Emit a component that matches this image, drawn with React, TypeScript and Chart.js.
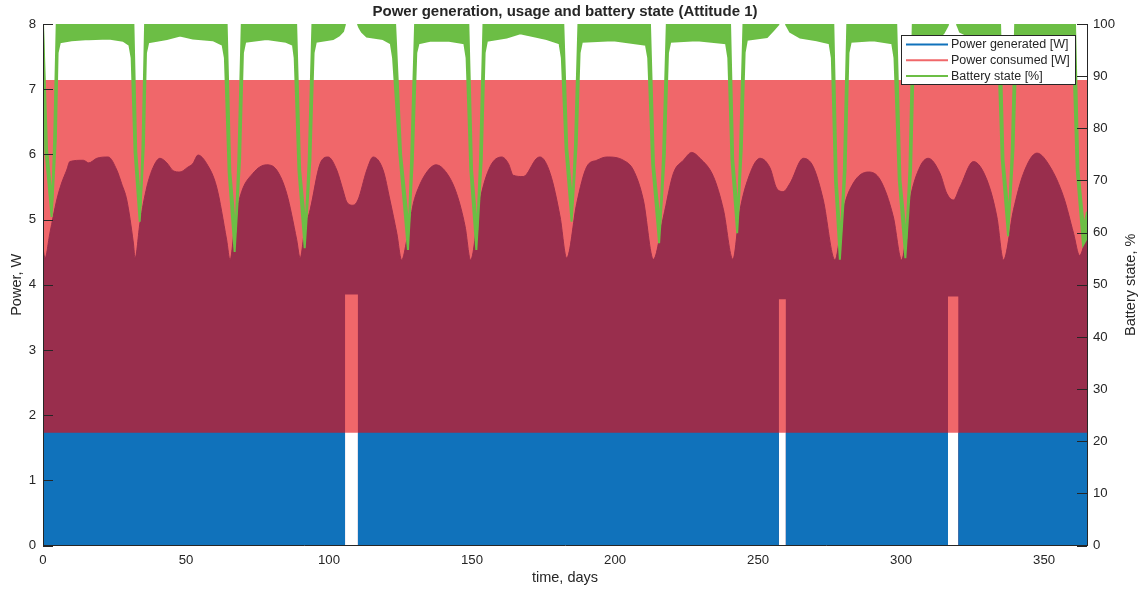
import { useEffect, useRef } from 'react';
import { Chart, registerables } from 'chart.js';

Chart.register(...registerables);

const FONT = '"Liberation Sans", Arial, Helvetica, sans-serif';
const AXIS = '#262626';
const BLUE = '#1072BB';
const RED = '#F0676A';
const MAROON = '#992E4D';
const GREEN = '#6CBE45';

// Generated power: upper envelope of the per-orbit swing [W]
const genEnvDays = [
  0, 0.7, 2.4, 4.8, 6.5, 8.3, 9.4, 14.1, 16, 18.8, 22.8, 25.8, 27.5, 29.3, 31.6, 32.2,
  33.9, 36.3, 38.5, 40.9, 43.3, 45.5, 47.9, 50.5, 52.4, 54.2, 57.2, 60.7, 64.2, 65.4,
  67.0, 68.9, 73.4, 78.2, 81.7, 85.2, 88.7, 89.9, 91.5, 93.4, 96.9, 99.7, 102.7, 104.9,
  106.2, 108.4, 110.1, 113.2, 115.4, 118.9, 121.3, 123.7, 125.4, 127.2, 129.5, 131.2,
  134.2, 137.4, 141.2, 144.6, 147.6, 149.5, 152.8, 156.3, 160.4, 162.7, 164.4, 167.9,
  172.6, 173.8, 177.3, 180.8, 183.1, 186.6, 190.1, 193.6, 197.1, 202.9, 206.4, 209.9,
  213.4, 216.9, 220.4, 223.9, 226.8, 229.7, 234.4, 237.9, 241.2, 243.5, 246.0, 250.7,
  254.2, 256.5, 258.8, 261.2, 265.8, 269.3, 272.8, 276.9, 279.8, 283.3, 288.6, 292.7,
  297.3, 300.2, 303.1, 306.6, 309.5, 313.6, 316.0, 318.3, 320.6, 325.3, 330.0, 333.5,
  335.8, 339.3, 342.8, 347.5, 352.1, 356.8, 360.3, 362.4, 365,
];
const genEnvW = [
  4.56, 4.41, 4.79, 5.30, 5.56, 5.76, 5.89, 5.91, 5.87, 5.94, 5.96, 5.76, 5.55, 5.30, 4.64, 4.41,
  4.95, 5.50, 5.80, 5.94, 5.87, 5.75, 5.73, 5.80, 5.86, 5.99, 5.86, 5.50, 4.69, 4.38,
  4.90, 5.35, 5.71, 5.84, 5.76, 5.40, 4.69, 4.41, 4.85, 5.15, 5.86, 5.96, 5.76, 5.45,
  5.27, 5.22, 5.30, 5.76, 5.96, 5.76, 5.30, 4.79, 4.38, 4.69, 5.25, 5.48,
  5.73, 5.84, 5.71, 5.40, 4.89, 4.38, 5.30, 5.81, 5.96, 5.86, 5.68, 5.66,
  5.94, 5.96, 5.71, 5.04, 4.41, 5.25, 5.81, 5.91, 5.96, 5.91, 5.76, 5.30,
  4.39, 5.04, 5.71, 5.91, 6.03, 5.94, 5.66, 5.15, 4.39, 5.10, 5.56, 5.94,
  5.79, 5.48, 5.43, 5.56, 5.94, 5.81, 5.30, 4.38, 5.15, 5.56, 5.73, 5.61,
  5.04, 4.38, 5.30, 5.81, 5.94, 5.71, 5.40, 5.30, 5.50, 5.89, 5.61, 5.04,
  4.38, 5.15, 5.71, 6.02, 5.81, 5.35, 4.79, 4.45, 4.79,
];

// Eclipse-free windows: generation never drops to zero, floor level per window [W]
const noEclipseStart = [105.6, 257.3, 316.4];
const noEclipseEnd = [110.1, 259.7, 320.0];
const noEclipseMinW = [3.85, 3.78, 3.82];

// Consumed power swings between these two levels every orbit [W]
const consumedDays = [0, 365];
const consumedLowW = [1.73, 1.73];
const consumedHighW = [7.14, 7.14];

// Battery state of charge: upper envelope [%] (null = held at full charge, not drawn)
const battUpperDays = [
  0, 0.1, 1.4, 3.2, 3.9, 4.8,
  31.6, 32.6, 34.1, 34.8, 35.7,
  64.2, 65.5, 67.3, 68.3, 69.5,
  88.5, 89.9, 91.8, 92.9, 94.2,
  105.6, 107.9, 110.1,
  123.1, 125.2, 127.9, 128.7, 130.1,
  148.7, 150.0, 151.8, 152.8, 154.0,
  181.9, 183.3, 185.1, 186.0, 187.2,
  212.2, 213.6, 215.7, 216.8, 218.1,
  240.2, 241.3, 243.0, 243.7, 244.9,
  257.3, 258.5, 259.7,
  276.3, 277.5, 278.9, 280.0, 281.2,
  298.3, 299.8, 301.8, 302.9, 304.1,
  316.5, 318.0, 319.5,
  334.6, 335.8, 337.7, 338.7, 339.9,
  360.8, 362.0, 363.9, 365,
];
const battUpperPct: (number | null)[] = [
  100, 100, 76, 66, 78, 100,
  100, 75.5, 65, 77, 100,
  100, 71.6, 60, 74, 100,
  100, 72, 61, 74, 100,
  100, null, 100,
  100, 75, 60.5, 74, 100,
  100, 72, 60.5, 74, 100,
  100, 76, 65.5, 77, 100,
  100, 73, 61.5, 75, 100,
  100, 74, 63.5, 76, 100,
  100, null, 100,
  100, 70, 58.5, 72, 100,
  100, 70, 58.8, 72, 100,
  100, null, 100,
  100, 74, 63, 76, 100,
  100, 72, 61, 64,
];

// Battery state of charge: lower envelope [%]
const battLowerDays = [
  0, 0.8, 3.0, 4.5, 5.1, 5.9,
  10, 16, 23, 28,
  30.2, 31.0, 32.0, 33.8, 35.3, 36.0, 36.8,
  43.3, 47.9, 52.4, 59.4,
  62.8, 63.6, 64.9, 67.0, 68.9, 69.9, 70.7,
  78.2, 85,
  87.4, 88.0, 89.3, 91.5, 93.5, 94.6, 95.4,
  101.4, 103.5, 104.9, 105.4, 105.6, 107.9, 110.1, 110.6, 111.5, 113.2, 118.9,
  121.6, 122.4, 124.6, 127.6, 129.3, 130.5, 131.3,
  135.3, 142,
  147.3, 148.1, 149.4, 151.5, 153.4, 154.4, 155.2,
  162.1, 166.8, 171.3, 176.1,
  180.6, 181.4, 182.7, 184.8, 186.6, 187.6, 188.4,
  199.3,
  210.8, 211.6, 213.0, 215.4, 217.4, 218.5, 219.3,
  228.6,
  238.8, 239.6, 240.7, 242.7, 244.3, 245.3, 246.1,
  253.1, 255.3, 256.9, 257.3, 258.5, 259.7, 260.1, 261.2, 264.7, 270.5,
  275.0, 275.8, 276.9, 278.6, 280.6, 281.6, 282.4,
  290.2,
  296.9, 297.7, 299.2, 301.5, 303.5, 304.5, 305.3,
  312.5, 314.8, 316.1, 316.5, 318.0, 319.5, 319.9, 320.6, 325.3, 332.3,
  333.2, 334.0, 335.2, 337.4, 339.3, 340.3, 341.1,
  348.6,
  359.4, 360.2, 361.4, 363.6, 365,
];
const battLowerPct: (number | null)[] = [
  99, 76, 63, 78, 94.5, 96.5,
  96.9, 97.1, 97.2, 96.8,
  96.0, 93.5, 75.5, 62.1, 77, 94.5, 96.5,
  97.1, 97.8, 97.2, 96.9,
  96.0, 93.5, 71.6, 56.3, 74, 94.5, 96.6,
  97.1, 96.6,
  96.0, 93.5, 72, 57, 74, 94.5, 96.6,
  97.1, 97.8, 98.6, 99.6, 100, null, 100, 99.3, 98.5, 97.6, 97.1,
  96.3, 93.5, 75, 56.7, 74, 94.5, 96.3,
  96.8, 96.8,
  96.3, 93.5, 72, 56.7, 74, 94.5, 96.8,
  97.4, 98.2, 97.7, 97.1,
  96.3, 93.5, 76, 62.1, 77, 94.5, 96.6,
  96.9,
  96.0, 93.5, 73, 58, 75, 94.5, 96.6,
  96.9,
  96.3, 93.5, 74, 59.9, 76, 94.5, 97.0,
  97.5, 98.8, 99.8, 100, null, 100, 99.6, 98.5, 97.4, 96.9,
  96.3, 93.5, 70, 54.8, 72, 94.5, 96.6,
  96.9,
  96.3, 93.5, 70, 55.1, 72, 94.5, 96.6,
  97.2, 98.2, 99.5, 100, null, 100, 99.5, 98.5, 97.2, 96.9,
  96.3, 93.5, 74, 59.3, 76, 94.5, 96.6,
  96.9,
  96.3, 93.5, 72, 57.6, 59,
];

const xTicks = [0, 50, 100, 150, 200, 250, 300, 350];
const powerTicks = [0, 1, 2, 3, 4, 5, 6, 7, 8];
const batteryTicks = [0, 10, 20, 30, 40, 50, 60, 70, 80, 90, 100];

const legendItems = [
  { label: 'Power generated [W]', color: BLUE },
  { label: 'Power consumed [W]', color: RED },
  { label: 'Battery state [%]', color: GREEN },
];

const DAY_MAX = 365;
const TICK_LEN = 10;

type P = { x: number; y: number | null };
const pts = (xs: number[], ys: (number | null)[]): P[] => xs.map((x, i) => ({ x, y: ys[i] }));

// Part of the generation band below the consumption floor: zero height while no eclipse
const floorLevel = consumedLowW[0];
const genBelowFloor: P[] = [{ x: 0, y: floorLevel }];
const genFloor: P[] = [{ x: 0, y: 0 }];
noEclipseStart.forEach((s, i) => {
  const e = noEclipseEnd[i];
  const m = noEclipseMinW[i];
  genBelowFloor.push({ x: s, y: floorLevel }, { x: s, y: 0 }, { x: e, y: 0 }, { x: e, y: floorLevel });
  genFloor.push({ x: s, y: 0 }, { x: s, y: m }, { x: e, y: m }, { x: e, y: 0 });
});
genBelowFloor.push({ x: DAY_MAX, y: floorLevel });
genFloor.push({ x: DAY_MAX, y: 0 });

const hiddenLine = { borderWidth: 0, borderColor: 'rgba(0,0,0,0)', backgroundColor: 'rgba(0,0,0,0)', fill: false };

const decor = {
  id: 'decor',
  afterDatasetsDraw(chart: any) {
    const { ctx, chartArea: a, scales } = chart;
    ctx.save();
    ctx.strokeStyle = AXIS;
    ctx.lineWidth = 1;
    ctx.beginPath();
    for (const v of powerTicks) {
      const py = Math.round(scales.y.getPixelForValue(v)) + 0.5;
      ctx.moveTo(a.left, py);
      ctx.lineTo(a.left + TICK_LEN, py);
    }
    for (const v of batteryTicks) {
      const py = Math.round(scales.y1.getPixelForValue(v)) + 0.5;
      ctx.moveTo(a.right, py);
      ctx.lineTo(a.right - TICK_LEN, py);
    }
    ctx.stroke();
    ctx.restore();
  },
  afterDraw(chart: any) {
    const { ctx, chartArea: a } = chart;
    const cx = (a.left + a.right) / 2;
    const cy = (a.top + a.bottom) / 2;
    ctx.save();
    ctx.fillStyle = AXIS;
    ctx.textAlign = 'center';
    ctx.textBaseline = 'middle';

    ctx.font = `bold 15px ${FONT}`;
    ctx.fillText('Power generation, usage and battery state (Attitude 1)', cx, 12);

    ctx.font = `14.5px ${FONT}`;
    ctx.fillText('time, days', cx, 578);

    ctx.save();
    ctx.translate(17, cy);
    ctx.rotate(-Math.PI / 2);
    ctx.fillText('Power, W', 0, 0);
    ctx.restore();

    ctx.save();
    ctx.translate(1131, cy);
    ctx.rotate(-Math.PI / 2);
    ctx.fillText('Battery state, %', 0, 0);
    ctx.restore();

    // legend box
    const bx = 901.5, by = 35.5, bw = 174, bh = 49;
    ctx.fillStyle = '#ffffff';
    ctx.fillRect(bx, by, bw, bh);
    ctx.strokeStyle = AXIS;
    ctx.lineWidth = 1;
    ctx.strokeRect(bx, by, bw, bh);
    ctx.font = `12.5px ${FONT}`;
    ctx.textAlign = 'left';
    legendItems.forEach((item, i) => {
      const ly = 44.5 + i * 15.8;
      ctx.strokeStyle = item.color;
      ctx.lineWidth = 2;
      ctx.beginPath();
      ctx.moveTo(906, ly);
      ctx.lineTo(948, ly);
      ctx.stroke();
      ctx.fillStyle = AXIS;
      ctx.fillText(item.label, 951, ly);
    });
    ctx.restore();
  },
};

export default function App() {
  const ref = useRef<HTMLCanvasElement>(null);

  useEffect(() => {
    const canvas = ref.current;
    if (!canvas) return;

    const tickFont = { family: FONT, size: 13.2 };
    const noGrid = { display: false, drawTicks: false, tickLength: 0 };

    const chart = new Chart(canvas, {
      type: 'line',
      data: {
        datasets: [
          {
            label: 'Battery state [%]',
            data: pts(battUpperDays, battUpperPct),
            yAxisID: 'y1',
            borderColor: GREEN,
            backgroundColor: GREEN,
            borderWidth: 2,
            fill: '+1',
            order: 0,
            clip: 0,
          },
          {
            label: 'Battery state lower [%]',
            data: pts(battLowerDays, battLowerPct),
            yAxisID: 'y1',
            borderColor: GREEN,
            backgroundColor: GREEN,
            borderWidth: 2,
            fill: false,
            order: 0,
            clip: 0,
          },
          {
            label: 'Power generated [W]',
            data: genBelowFloor,
            yAxisID: 'y',
            borderWidth: 0,
            borderColor: BLUE,
            backgroundColor: BLUE,
            fill: 'origin',
            order: 1,
            clip: 0,
          },
          {
            label: 'Power generated envelope [W]',
            data: pts(genEnvDays, genEnvW),
            yAxisID: 'y',
            borderWidth: 1,
            borderColor: MAROON,
            backgroundColor: MAROON,
            cubicInterpolationMode: 'monotone',
            fill: '+1',
            order: 2,
            clip: 0,
          },
          {
            label: 'Power generated floor [W]',
            data: genFloor,
            yAxisID: 'y',
            ...hiddenLine,
            order: 2,
            clip: 0,
          },
          {
            label: 'Power consumed [W]',
            data: pts(consumedDays, consumedHighW),
            yAxisID: 'y',
            borderWidth: 0,
            borderColor: RED,
            backgroundColor: RED,
            fill: '+1',
            order: 3,
            clip: 0,
          },
          {
            label: 'Power consumed floor [W]',
            data: pts(consumedDays, consumedLowW),
            yAxisID: 'y',
            ...hiddenLine,
            order: 3,
            clip: 0,
          },
        ] as any,
      },
      options: {
        animation: false,
        responsive: false,
        devicePixelRatio: 1,
        events: [],
        layout: { padding: { top: 24, left: 0, right: 0, bottom: 0 } },
        elements: { point: { radius: 0 }, line: { tension: 0 } },
        plugins: {
          legend: { display: false },
          tooltip: { enabled: false },
          title: { display: false },
        },
        scales: {
          x: {
            type: 'linear',
            min: 0,
            max: DAY_MAX,
            afterBuildTicks: (s: any) => { s.ticks = xTicks.map((v) => ({ value: v })); },
            afterFit: (s: any) => { s.height = 44.4; },
            grid: noGrid,
            border: { display: true, color: AXIS, width: 1, z: 1 },
            ticks: { color: AXIS, font: tickFont, padding: 7, maxRotation: 0, autoSkip: false },
          },
          y: {
            type: 'linear',
            position: 'left',
            min: 0,
            max: 8,
            afterBuildTicks: (s: any) => { s.ticks = powerTicks.map((v) => ({ value: v })); },
            afterFit: (s: any) => { s.width = 43; },
            grid: noGrid,
            border: { display: true, color: AXIS, width: 1, z: 1 },
            ticks: { color: AXIS, font: tickFont, padding: 7 },
          },
          y1: {
            type: 'linear',
            position: 'right',
            min: 0,
            max: 100,
            afterBuildTicks: (s: any) => { s.ticks = batteryTicks.map((v) => ({ value: v })); },
            afterFit: (s: any) => { s.width = 56; },
            grid: noGrid,
            border: { display: true, color: AXIS, width: 1, z: 1 },
            ticks: { color: AXIS, font: tickFont, padding: 6 },
          },
        } as any,
      },
      plugins: [decor],
    });

    return () => chart.destroy();
  }, []);

  return (
    <div style={{ position: 'fixed', left: 0, top: 0, width: 1143, height: 590, background: '#ffffff' }}>
      <canvas ref={ref} width={1143} height={590} style={{ display: 'block', width: 1143, height: 590 }} />
    </div>
  );
}
